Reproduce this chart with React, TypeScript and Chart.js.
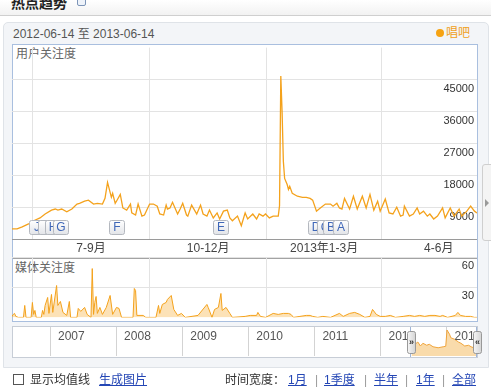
import React, { useEffect, useRef } from "react";
import { Chart, registerables } from "chart.js";

Chart.register(...registerables);

const FONT = '"Liberation Sans", "Noto Sans CJK SC", sans-serif';
const ORANGE = "#f4a21c";

// 用户关注度: day index in the 2012-06-14 .. 2013-06-14 window
const userDays = [1,5,9,14,18,23,27,32,35,37,40,44,48,52,54,58,61,65,68,72,74,76,79,80,82,83,86,88,91,94,95,98,100,103,105,109,112,115,117,120,122,123,125,127,131,133,135,138,139,142,146,149,151,154,156,159,162,164,167,170,172,174,178,181,184,186,190,193,195,198,200,203,206,210,211,212,213,214,215,217,218,219,221,225,229,232,235,237,240,243,247,251,253,256,258,260,262,266,269,272,276,279,282,285,288,290,294,297,300,303,306,308,309,313,316,319,321,324,327,329,332,335,339,341,345,348,352,354,358,361,364,366];
const userValues = [3000,3000,3600,4400,5300,6100,7200,8300,8600,8300,8600,7800,8600,10000,10200,10800,11100,10000,10200,10000,11600,16100,11900,13000,10200,10800,12700,8900,8300,10000,7500,6900,10000,6600,6900,10000,10000,9400,7200,6900,9700,8600,8900,10500,7200,8600,10200,6900,6600,9700,7200,9700,7200,6600,8300,6100,7500,5800,8000,8300,6100,5300,6600,3900,7500,5800,7200,5800,7200,6600,7200,6100,6600,6600,9500,46000,36000,22000,17200,15500,14100,15000,13000,12200,11900,11900,11600,11100,8000,8900,10000,10000,9400,10200,8900,8600,11600,8600,12200,8600,12200,8900,12700,8300,10800,8000,11400,7500,7200,9100,6600,6900,9400,6600,7200,8900,7200,8000,6600,7200,5800,6600,8900,6100,8900,6600,8600,6600,8000,9400,8000,7500];

// 媒体关注度
const mediaDays = [1,2,3,4,6,10,11,12,16,17,18,19,20,24,25,26,27,29,30,32,33,36,37,39,41,44,46,47,52,53,55,58,60,63,64,65,66,67,68,70,72,75,78,80,83,85,87,96,97,98,99,104,106,114,116,117,119,122,123,126,128,131,134,137,147,154,155,158,160,163,165,166,169,172,174,184,188,193,194,196,200,206,210,214,218,220,222,227,232,235,237,241,245,251,258,261,266,270,274,278,282,284,287,290,294,298,302,308,313,317,321,325,329,333,337,339,343,349,351,353,357,361,364,366];
const mediaValues = [1,3,4,1,0,0,12,0,0,15,3,7,0,0,7,3,12,20,4,23,5,32,12,16,5,2,16,0,0,9,6,10,3,0,49,3,15,21,4,10,3,10,22,3,10,9,0,0,29,27,2,2,0,0,12,4,13,15,18,22,8,2,4,0,2,13,10,0,8,10,24,7,10,4,0,1,2,2,5,1,0,4,3,4,4,3,0,1,2,2,1,0,1,0,4,1,4,5,3,0,1,8,3,1,1,2,0,1,2,1,2,1,2,2,1,2,0,2,5,2,1,1,0,0];

// quarter boundaries / labels (day index)
const quarterStarts = [17, 109, 201, 291];
const quarterMids = [63, 155, 246, 336];
const quarterLabels = ["7-9月", "10-12月", "2013年1-3月", "4-6月"];
const userTicks = [9000, 18000, 27000, 36000, 45000];
const userMax = 54000;
const mediaTicks = [30, 60];
const mediaMax = 60;

// event markers
const eventLabels = ["J", "I", "H", "G", "F", "E", "D", "C", "B", "A"];
const eventDays = [20, 27, 33, 39, 83, 165, 239, 246, 251, 259];

// navigator (years) and weekly overview of the selected year
const navYears = [2007, 2008, 2009, 2010, 2011, 2012, 2013];
const navMin = 2006.44;
const navMax = 2013.46;
const navStart = 2012.45;
const navWeeks = [1,3,4,6,8,10,13,15,18,22,26,28,29,31,32,35,38,40,43,46,48,50,52];
const navValues = [3000,6400,9600,11200,8000,10200,8600,9400,7400,6600,7400,7800,20800,17400,14600,13400,11200,10200,8000,8600,7400,6600,7000];
const navYMax = 23200;

function roundRect(ctx: CanvasRenderingContext2D, x: number, y: number, w: number, h: number, r: number) {
  ctx.beginPath();
  ctx.moveTo(x + r, y);
  ctx.lineTo(x + w - r, y);
  ctx.quadraticCurveTo(x + w, y, x + w, y + r);
  ctx.lineTo(x + w, y + h - r);
  ctx.quadraticCurveTo(x + w, y + h, x + w - r, y + h);
  ctx.lineTo(x + r, y + h);
  ctx.quadraticCurveTo(x, y + h, x, y + h - r);
  ctx.lineTo(x, y + r);
  ctx.quadraticCurveTo(x, y, x + r, y);
  ctx.closePath();
}

const markerPlugin = {
  id: "eventMarkers",
  afterDatasetsDraw(chart: any) {
    const { ctx, chartArea, scales } = chart;
    const xs = scales.x;
    ctx.save();
    ctx.font = "12px " + FONT;
    ctx.textAlign = "center";
    ctx.textBaseline = "middle";
    const top = Math.round(chartArea.bottom) - 20 + 0.5;
    eventDays.forEach((d, i) => {
      const cx = xs.getPixelForValue(d);
      const left = Math.round(cx - 7.5) + 0.5;
      const g = ctx.createLinearGradient(0, top, 0, top + 14);
      g.addColorStop(0, "#ffffff");
      g.addColorStop(1, "#e2e4e8");
      roundRect(ctx, left, top, 15, 14, 2);
      ctx.fillStyle = g;
      ctx.fill();
      ctx.strokeStyle = "#b4b8bf";
      ctx.lineWidth = 1;
      ctx.stroke();
      ctx.fillStyle = "#3f67b8";
      ctx.fillText(eventLabels[i], left + 7.5, top + 7.5);
    });
    ctx.restore();
  },
};

const navPlugin = {
  id: "navDecor",
  afterDatasetsDraw(chart: any) {
    const { ctx, chartArea, scales } = chart;
    const xs = scales.x;
    ctx.save();
    ctx.font = "12px " + FONT;
    ctx.fillStyle = "#555";
    ctx.textAlign = "left";
    ctx.textBaseline = "middle";
    navYears.forEach((yr) => {
      ctx.fillText(String(yr), xs.getPixelForValue(yr) + 8, chartArea.top + 10);
    });
    const sx = Math.round(xs.getPixelForValue(navStart)) + 0.5;
    const ex = Math.round(xs.getPixelForValue(navMax)) - 0.5;
    ctx.strokeStyle = "#9fb5d8";
    ctx.lineWidth = 1;
    ctx.beginPath();
    ctx.moveTo(sx, 0);
    ctx.lineTo(sx, chart.height);
    ctx.moveTo(ex, 0);
    ctx.lineTo(ex, chart.height);
    ctx.stroke();
    [sx, ex].forEach((hx, k) => {
      const left = Math.round(hx - 4) + 0.5;
      const t = chartArea.top + 4.5;
      const g = ctx.createLinearGradient(left, 0, left + 8, 0);
      g.addColorStop(0, "#f6f6f6");
      g.addColorStop(1, "#d4d4d4");
      roundRect(ctx, left, t, 8, 22, 2);
      ctx.fillStyle = g;
      ctx.fill();
      ctx.strokeStyle = "#999";
      ctx.stroke();
      ctx.fillStyle = "#333";
      ctx.font = "bold 9px " + FONT;
      ctx.textAlign = "center";
      ctx.fillText(k === 0 ? "»" : "«", left + 4, t + 11);
    });
    ctx.restore();
  },
};

export default function App() {
  const mainRef = useRef<HTMLCanvasElement>(null);
  const mediaRef = useRef<HTMLCanvasElement>(null);
  const navRef = useRef<HTMLCanvasElement>(null);

  useEffect(() => {
    const charts: Chart[] = [];
    const gridColor = "#e3e3e3";

    charts.push(
      new Chart(mainRef.current as HTMLCanvasElement, {
        type: "line",
        data: {
          datasets: [
            {
              data: userDays.map((d, i) => ({ x: d, y: userValues[i] })),
              borderColor: ORANGE,
              borderWidth: 1.3,
              pointRadius: 0,
              tension: 0,
              fill: false,
              xAxisID: "x",
              yAxisID: "y",
            },
          ],
        },
        options: {
          animation: false,
          responsive: false,
          devicePixelRatio: 1,
          events: [],
          layout: { padding: 0 },
          plugins: { legend: { display: false }, tooltip: { enabled: false } },
          scales: {
            x: {
              type: "linear",
              position: "bottom",
              min: 1,
              max: 366,
              weight: 0,
              afterBuildTicks: (s: any) => {
                s.ticks = quarterStarts.map((v) => ({ value: v }));
              },
              grid: { color: gridColor, drawTicks: false },
              border: { display: true, color: "#9a9a9a" },
              ticks: { display: false },
            },
            xl: {
              type: "linear",
              axis: "x",
              position: "bottom",
              min: 1,
              max: 366,
              weight: 1,
              afterBuildTicks: (s: any) => {
                s.ticks = quarterMids.map((v) => ({ value: v }));
              },
              grid: { display: false, drawTicks: false },
              border: { display: false },
              ticks: {
                autoSkip: false,
                maxRotation: 0,
                padding: 2,
                color: "#444",
                font: { size: 12, family: FONT },
                callback: (v: any) => quarterLabels[quarterMids.indexOf(Number(v))],
              },
            },
            y: {
              type: "linear",
              position: "right",
              min: 0,
              max: userMax,
              afterBuildTicks: (s: any) => {
                s.ticks = [0, ...userTicks, userMax].map((v) => ({ value: v }));
              },
              grid: { color: gridColor, drawTicks: false },
              border: { display: false },
              ticks: {
                mirror: true,
                padding: -3,
                labelOffset: 9,
                color: "#333",
                font: { size: 11, family: FONT },
                callback: (v: any) => (userTicks.includes(Number(v)) ? String(v) : null),
              },
            },
          },
        } as any,
        plugins: [markerPlugin],
      })
    );

    charts.push(
      new Chart(mediaRef.current as HTMLCanvasElement, {
        type: "line",
        data: {
          datasets: [
            {
              data: mediaDays.map((d, i) => ({ x: d, y: mediaValues[i] })),
              borderColor: ORANGE,
              backgroundColor: "rgba(245,166,35,0.33)",
              borderWidth: 1,
              pointRadius: 0,
              tension: 0,
              fill: "origin",
            },
          ],
        },
        options: {
          animation: false,
          responsive: false,
          devicePixelRatio: 1,
          events: [],
          plugins: { legend: { display: false }, tooltip: { enabled: false } },
          scales: {
            x: {
              type: "linear",
              min: 1,
              max: 366,
              afterBuildTicks: (s: any) => {
                s.ticks = quarterStarts.map((v) => ({ value: v }));
              },
              grid: { color: gridColor, drawTicks: false },
              border: { display: false },
              ticks: { display: false },
            },
            y: {
              type: "linear",
              position: "right",
              min: 0,
              max: mediaMax,
              afterBuildTicks: (s: any) => {
                s.ticks = [0, ...mediaTicks].map((v) => ({ value: v }));
              },
              grid: { color: gridColor, drawTicks: false },
              border: { display: false },
              ticks: {
                mirror: true,
                padding: -3,
                labelOffset: 8,
                color: "#333",
                font: { size: 11, family: FONT },
                callback: (v: any) => (mediaTicks.includes(Number(v)) ? String(v) : null),
              },
            },
          },
        } as any,
      })
    );

    charts.push(
      new Chart(navRef.current as HTMLCanvasElement, {
        type: "line",
        data: {
          datasets: [
            {
              data: navWeeks.map((w, i) => ({ x: navStart + (w * 7) / 365, y: navValues[i] })),
              borderColor: "#f0a43a",
              backgroundColor: "#f9dbab",
              borderWidth: 1,
              pointRadius: 0,
              tension: 0,
              fill: "origin",
            },
          ],
        },
        options: {
          animation: false,
          responsive: false,
          devicePixelRatio: 1,
          events: [],
          layout: { padding: { right: 5, bottom: 1 } },
          plugins: { legend: { display: false }, tooltip: { enabled: false } },
          scales: {
            x: {
              type: "linear",
              min: navMin,
              max: navMax,
              afterBuildTicks: (s: any) => {
                s.ticks = navYears.map((v) => ({ value: v }));
              },
              grid: { color: "#d3d3d3", drawTicks: false },
              border: { display: false },
              ticks: { display: false },
            },
            y: { display: false, min: 0, max: navYMax },
          },
        } as any,
        plugins: [navPlugin],
      })
    );

    return () => charts.forEach((c) => c.destroy());
  }, []);

  const abs = (s: React.CSSProperties): React.CSSProperties => ({ position: "absolute", ...s });
  const txt = (left: number, top: number, extra: React.CSSProperties = {}): React.CSSProperties =>
    abs({ left, top, fontSize: 12, lineHeight: "14px", whiteSpace: "nowrap", color: "#333", ...extra });
  const link: React.CSSProperties = { color: "#2446b5", textDecoration: "underline" };

  return (
    <div
      style={{
        position: "relative",
        width: 491,
        height: 390,
        overflow: "hidden",
        background: "#fff",
        fontFamily: FONT,
      }}
    >
      <style>{`body{margin:0}`}</style>
      <div style={abs({ left: 0, top: 0, width: 491, height: 15, background: "linear-gradient(#ffffff, #f2f2f2)" })} />
      <div style={abs({ left: 0, top: 15, width: 491, height: 1, background: "#cfcfcf" })} />
      <div
        style={abs({
          left: 11,
          top: -5,
          fontSize: 14,
          lineHeight: "14px",
          fontWeight: "bold",
          color: "#222",
          fontFamily: '"Noto Sans CJK SC", sans-serif',
          whiteSpace: "nowrap",
        })}
      >
        热点趋势
      </div>
      <div
        style={abs({
          left: 77,
          top: -6,
          width: 7,
          height: 10,
          border: "1px solid #7d95b8",
          borderRadius: 2,
          background: "#eef3fa",
        })}
      />

      {/* panel */}
      <div
        style={abs({
          left: 3,
          top: 22,
          width: 486,
          height: 346,
          boxSizing: "border-box",
          background: "#f3f5f8",
          border: "1px solid #dfe3e8",
          borderRadius: "5px 5px 0 0",
        })}
      />
      <div style={txt(13, 27, { color: "#555" })}>2012-06-14 至 2013-06-14</div>
      <div style={abs({ left: 436, top: 29, width: 8, height: 8, borderRadius: "50%", background: "#f6a313" })} />
      <div style={txt(446, 26, { color: "#f0a020" })}>唱吧</div>

      {/* main + media box */}
      <div
        style={abs({
          left: 12,
          top: 44,
          width: 464,
          height: 276,
          background: "#fff",
          border: "1px solid #a9bfdf",
        })}
      />
      <div style={abs({ left: 13, top: 258, width: 464, height: 1, background: "#a3a3a3" })} />
      <div style={txt(16, 47, { color: "#666" })}>用户关注度</div>
      <div style={txt(15, 261, { color: "#666" })}>媒体关注度</div>
      <canvas
        ref={mainRef}
        width={465}
        height={214}
        style={abs({ left: 12, top: 44, width: 465, height: 214 })}
      />
      <canvas
        ref={mediaRef}
        width={465}
        height={67}
        style={abs({ left: 12, top: 254, width: 465, height: 67 })}
      />

      {/* navigator */}
      <div
        style={abs({
          left: 12,
          top: 326,
          width: 464,
          height: 30,
          background: "#fff",
          border: "1px solid #c7cdd6",
        })}
      />
      <canvas
        ref={navRef}
        width={469}
        height={30}
        style={abs({ left: 13, top: 327, width: 469, height: 30 })}
      />

      {/* right tab */}
      <div
        style={abs({
          left: 482,
          top: 164,
          width: 14,
          height: 75,
          background: "#f4f4f4",
          border: "1px solid #cfcfcf",
          borderRadius: 3,
        })}
      />
      <div
        style={abs({
          left: 485,
          top: 199,
          width: 0,
          height: 0,
          borderLeft: "4px solid #9a9a9a",
          borderTop: "4px solid transparent",
          borderBottom: "4px solid transparent",
        })}
      />

      {/* bottom controls */}
      <div style={abs({ left: 13, top: 374, width: 9, height: 9, border: "1px solid #555", background: "#fff" })} />
      <div style={txt(30, 373)}>显示均值线</div>
      <div style={txt(99, 373, link)}>生成图片</div>
      <div style={txt(225, 373)}>时间宽度：</div>
      <div style={txt(288, 373, link)}>1月</div>
      <div style={txt(315, 373, { color: "#999" })}>|</div>
      <div style={txt(324, 373, link)}>1季度</div>
      <div style={txt(364, 373, { color: "#999" })}>|</div>
      <div style={txt(374, 373, link)}>半年</div>
      <div style={txt(405, 373, { color: "#999" })}>|</div>
      <div style={txt(416, 373, link)}>1年</div>
      <div style={txt(442, 373, { color: "#999" })}>|</div>
      <div style={txt(452, 373, link)}>全部</div>
    </div>
  );
}
